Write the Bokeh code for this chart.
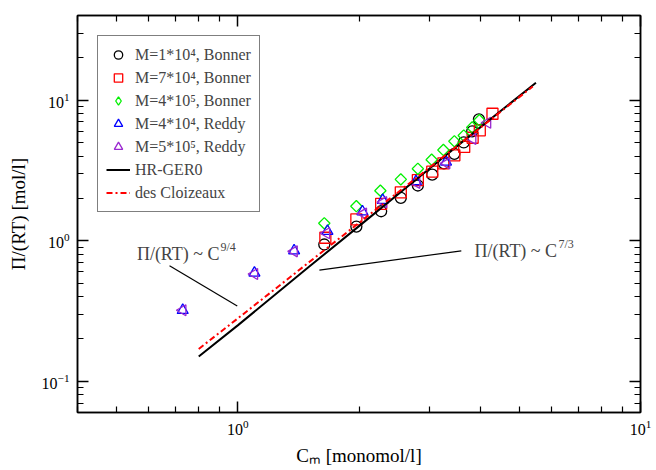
import numpy as np
from bokeh.plotting import figure
from bokeh.models import (LogAxis, Legend, LegendItem, Label, CustomJSTickFormatter,
                          FixedTicker, LogTickFormatter)
from bokeh.embed import file_html
from bokeh.resources import INLINE

# ---------------- data ----------------
bonner_1e4_c = [1.64, 1.97, 2.27, 2.54, 2.80, 3.04, 3.25, 3.45, 3.64, 3.82, 3.97]
bonner_1e4_pi = [0.94, 1.26, 1.62, 2.02, 2.47, 2.95, 3.55, 4.15, 5.0, 6.0, 7.3]

bonner_7e4_c = [1.65, 1.97, 2.27, 2.54, 2.80, 3.04, 3.24, 3.45, 3.65, 3.83, 3.99, 4.29]
bonner_7e4_pi = [1.05, 1.42, 1.83, 2.21, 2.70, 3.10, 3.55, 4.05, 4.65, 5.4, 6.1, 8.0]

bonner_4e5_c = [1.64, 1.97, 2.26, 2.54, 2.80, 3.03, 3.24, 3.45, 3.64, 3.82, 3.98]
bonner_4e5_pi = [1.33, 1.76, 2.27, 2.73, 3.25, 3.77, 4.42, 5.1, 5.6, 6.4, 7.2]

reddy_4e4_c = [0.73, 1.10, 1.38, 1.67, 2.04, 2.29, 2.77, 3.29]
reddy_4e4_pi = [0.32, 0.59, 0.85, 1.17, 1.61, 1.94, 2.64, 3.63]

reddy_5e5_c = [0.73, 1.10, 1.38, 1.66, 2.05, 2.30, 2.78, 3.30, 3.83, 4.17]
reddy_5e5_pi = [0.32, 0.58, 0.84, 1.13, 1.56, 1.88, 2.58, 3.55, 5.3, 6.9]

hr_ger0_c = [0.80, 1.0, 1.5, 2.0, 3.0, 4.0, 5.5]
hr_ger0_pi = [0.15, 0.25, 0.65, 1.27, 3.28, 6.4, 13.3]

des_cloizeaux_c = [0.80, 1.0, 1.5, 2.0, 3.0, 4.0, 5.4]
des_cloizeaux_pi = [0.17, 0.28, 0.70, 1.34, 3.33, 6.36, 12.5]

legend_labels = ["M=1*10\u2074, Bonner", "M=7*10\u2074, Bonner", "M=4*10\u2075, Bonner",
                 "M=4*10\u2074, Reddy", "M=5*10\u2075, Reddy", "HR-GER0", "des Cloizeaux"]

# axis ticks
major_ticks = [0.1, 1, 10]
x_minor_ticks = [0.4, 0.5, 0.6, 0.7, 0.8, 0.9, 2, 3, 4, 5, 6, 7, 8, 9]
y_minor_ticks = [0.06, 0.07, 0.08, 0.09, 0.2, 0.3, 0.4, 0.5, 0.6, 0.7, 0.8, 0.9,
                 2, 3, 4, 5, 6, 7, 8, 9, 20, 30, 40]

# annotation leader lines (annotation geometry, not data)
lead_94_c = [0.677, 0.997]
lead_94_pi = [0.663, 0.343]
lead_73_c = [1.595, 3.59]
lead_73_pi = [0.617, 0.848]

FONT = "Liberation Serif"
GREEN = "#00f000"
PURPLE = "#9a28d0"

p = figure(width=656, height=470, x_axis_type="log", y_axis_type="log",
           x_range=(0.4, 10), y_range=(0.06, 40),
           output_backend="svg", toolbar_location=None,
           min_border_left=77, min_border_right=16, min_border_top=15, min_border_bottom=58)
p.xgrid.visible = False
p.ygrid.visible = False
p.outline_line_color = "black"
p.outline_line_width = 1.5
p.background_fill_color = "white"
p.border_fill_color = "white"

bottom = p.below[0]
left = p.left[0]

mk = dict(fill_color=None, line_width=1.3, size=11)
r1 = p.scatter(bonner_1e4_c, bonner_1e4_pi, marker="circle", line_color="black", **mk)
r2 = p.scatter(bonner_7e4_c, bonner_7e4_pi, marker="square", line_color="#ff0000", **mk)
p.scatter(bonner_4e5_c, bonner_4e5_pi, marker="square", angle=np.pi / 4,
          line_color=GREEN, fill_color=None, line_width=1.3, size=8)
# legend key for the diamonds (the legend ignores marker rotation and sizes its own key);
# drawn at size 0 in the plot itself
r3 = p.scatter(bonner_4e5_c, bonner_4e5_pi, marker="diamond", line_color=GREEN,
               fill_color=None, line_width=1.3, size=0)
r4 = p.scatter(reddy_4e4_c, reddy_4e4_pi, marker="triangle", line_color="#0000ff", **mk)
r5 = p.scatter(reddy_5e5_c, reddy_5e5_pi, marker="triangle", angle=np.pi / 2,
               angle_units="rad", line_color=PURPLE, **mk)
r6 = p.line(hr_ger0_c, hr_ger0_pi, line_color="black", line_width=2)
r7 = p.line(des_cloizeaux_c, des_cloizeaux_pi, line_color="#ff0000", line_width=2,
            line_dash="6 3 2 3")

p.line(lead_94_c, lead_94_pi, line_color="black", line_width=1.2)
p.line(lead_73_c, lead_73_pi, line_color="black", line_width=1.2)

# annotations
p.add_layout(Label(x=0.901, y=0.803, text="\u03a0/(RT) ~ C", text_align="right",
                   text_baseline="middle", text_font=FONT, text_font_size="18px"))
p.add_layout(Label(x=0.901, y=0.803, x_offset=1, y_offset=7, text="9/4", text_align="left",
                   text_baseline="middle", text_font=FONT, text_font_size="12px"))
p.add_layout(Label(x=3.87, y=0.839, text="\u03a0/(RT) ~ C", text_align="left",
                   text_baseline="middle", text_font=FONT, text_font_size="18px"))
p.add_layout(Label(x=3.87, y=0.839, x_offset=84, y_offset=7, text="7/3", text_align="left",
                   text_baseline="middle", text_font=FONT, text_font_size="12px"))

# axes
bottom.axis_label = "C\u2098 [monomol/l]"
left.axis_label = "\u03a0/(RT) [mol/l]"
top = LogAxis(formatter=CustomJSTickFormatter(code="return ''"))
right = LogAxis(formatter=CustomJSTickFormatter(code="return ''"))
p.add_layout(top, "above")
p.add_layout(right, "right")

for ax, minor in [(bottom, x_minor_ticks), (top, x_minor_ticks),
                  (left, y_minor_ticks), (right, y_minor_ticks)]:
    ax.ticker = FixedTicker(ticks=major_ticks, minor_ticks=minor)
    ax.major_tick_in = 11
    ax.major_tick_out = 0
    ax.minor_tick_in = 6
    ax.minor_tick_out = 0
    ax.major_tick_line_width = 1.5
    ax.minor_tick_line_width = 1.2
    ax.axis_line_width = 1.5
    ax.major_tick_line_color = "black"
    ax.minor_tick_line_color = "black"
    ax.axis_line_color = "black"
    ax.major_label_text_font = FONT
    ax.major_label_text_font_size = "16px"
    ax.major_label_text_color = "black"
    ax.axis_label_text_font = FONT
    ax.axis_label_text_font_size = "19px"
    ax.axis_label_text_font_style = "normal"
    ax.axis_label_text_color = "black"
for ax in [top, right]:
    ax.major_label_standoff = 0
bottom.formatter = LogTickFormatter()
left.formatter = LogTickFormatter()
bottom.major_label_standoff = 7
left.major_label_standoff = 8
bottom.axis_label_standoff = 7
left.axis_label_standoff = 10

legend = Legend(items=[LegendItem(label=l, renderers=[r]) for l, r in
                       zip(legend_labels, [r1, r2, r3, r4, r5, r6, r7])],
                location="top_left")
legend.margin = 20
legend.padding = 8
legend.spacing = 2
legend.glyph_height = 21
legend.label_height = 21
legend.glyph_width = 24
legend.label_standoff = 5
legend.border_line_color = "black"
legend.border_line_width = 1.5
legend.label_text_font = FONT
legend.label_text_font_size = "16px"
legend.background_fill_alpha = 1.0
p.add_layout(legend)

open("out.html", "w").write(file_html(p, INLINE))
